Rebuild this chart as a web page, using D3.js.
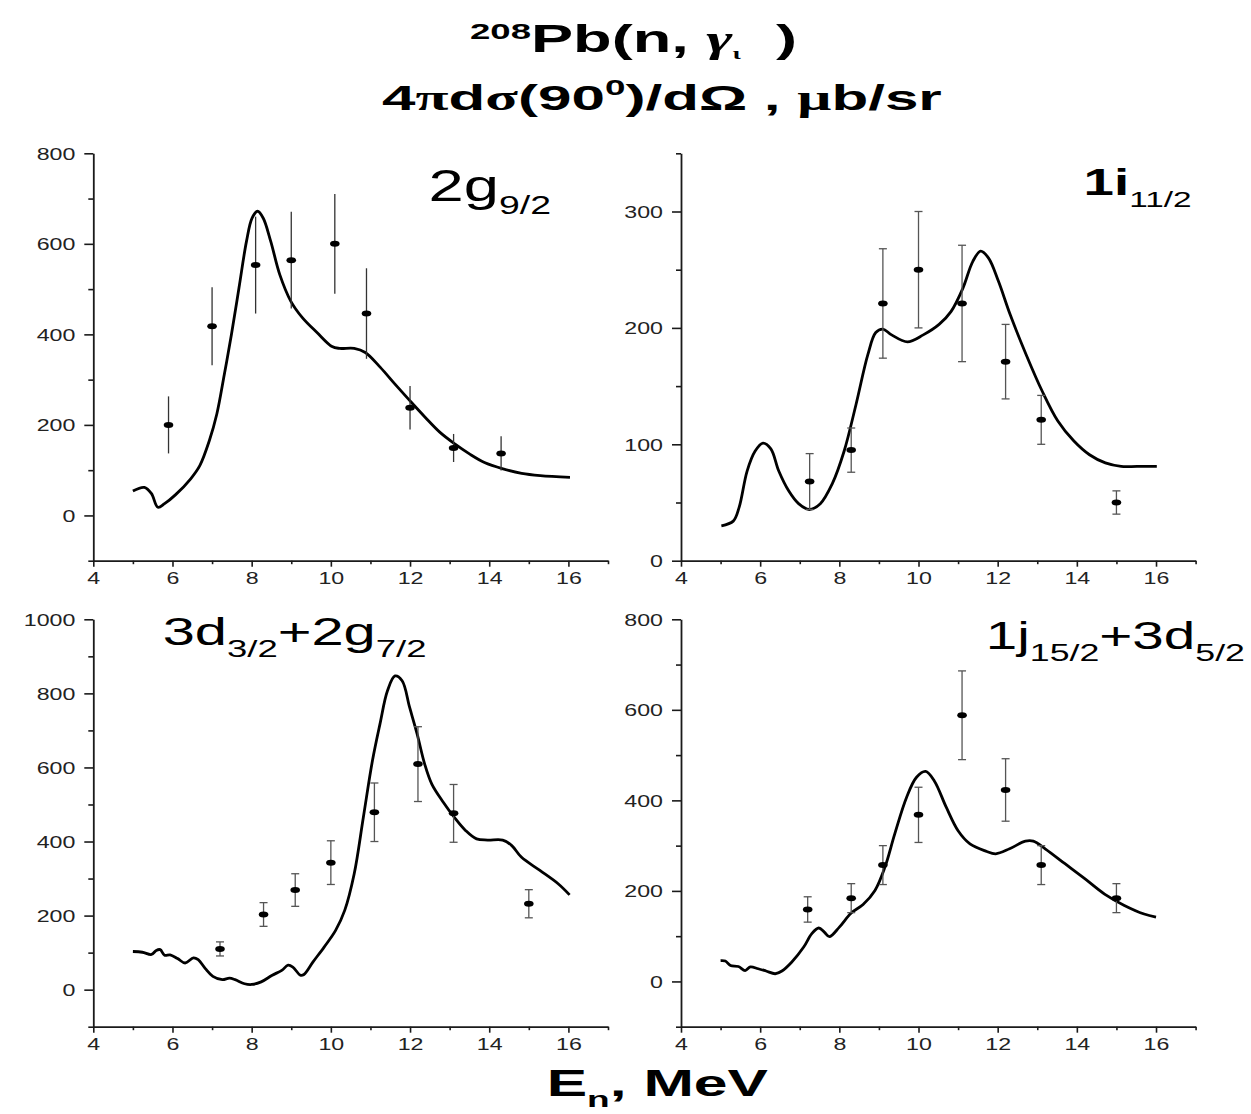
<!DOCTYPE html>
<html><head><meta charset="utf-8">
<script src="https://cdn.jsdelivr.net/npm/d3@7"></script>
<style>body{margin:0;background:#fff;} svg{display:block;} text{white-space:pre;}</style>
</head><body>
<svg id="c" width="1251" height="1114"></svg>
<script>
// ---------------- DATA ----------------
const xMajorTicks = [4, 6, 8, 10, 12, 14, 16];
const xMinorTicks = [5, 7, 9, 11, 13, 15, 17];

// Panel 1: 2g9/2
const p1CurveE = [5.0,5.29,5.47,5.63,5.8,6.08,6.46,6.69,6.93,7.12,7.31,7.49,7.68,7.87,8.01,8.15,8.29,8.48,8.71,8.99,9.28,9.65,10.03,10.22,10.59,10.87,11.25,11.62,12.0,12.38,12.75,13.13,13.5,13.88,14.35,14.82,15.29,16.04];
const p1CurveV = [54,62,48,18,26,46,81,110,165,224,312,400,503,606,657,672,657,606,532,473,437,404,373,369,369,360,327,290,253,217,184,158,136,117,103,93,88,84];
const p1PtE = [5.9,7.0,8.1,9.0,10.1,10.9,12.0,13.1,14.3];
const p1PtV = [200,418,553,564,600,446,238,149,137];
const p1Err = [63,86,107,107,110,100,48,31,38];
const p1YMajor = [0,200,400,600,800];
const p1YMinor = [-100,100,300,500,700];

// Panel 2: 1i11/2
const p2CurveE = [5.02,5.32,5.47,5.67,5.87,6.07,6.27,6.47,6.72,6.97,7.24,7.52,7.82,8.12,8.42,8.72,8.92,9.1,9.32,9.72,10.12,10.52,10.82,11.12,11.37,11.57,11.77,12.02,12.32,12.72,13.12,13.52,13.92,14.32,14.72,15.12,15.52,16.02];
const p2CurveV = [30,34,46,77,94,101,96,77,60,49,44,49,66,94,134,177,196,199,194,188,194,203,214,234,257,266,260,240,211,177,146,120,103,91,84,81,81,81];
const p2PtE = [7.25,8.3,9.1,10.0,11.1,12.2,13.1,15.0];
const p2PtV = [68,95,221,250,221,171,121,50];
const p2Err = [24,19,47,50,50,32,21,10];
const p2YMajor = [0,100,200,300];
const p2YMinor = [50,150,250,350];

// Panel 3: 3d3/2+2g7/2
const p3CurveE = [5.0,5.24,5.47,5.59,5.69,5.8,5.94,6.13,6.32,6.53,6.65,6.83,7.02,7.26,7.44,7.58,7.82,8.0,8.24,8.52,8.76,8.92,9.04,9.23,9.32,9.55,9.83,10.12,10.35,10.59,10.82,11.05,11.24,11.43,11.62,11.8,11.99,12.18,12.37,12.55,12.84,13.12,13.4,13.68,13.96,14.34,14.57,14.81,15.28,15.74,16.03];
const p3CurveV = [103,101,95,106,108,93,94,84,72,86,81,57,36,27,31,27,16,14,21,39,52,66,61,39,41,75,115,160,214,313,465,618,717,807,847,834,762,690,609,555,506,465,430,407,404,404,389,358,322,286,256];
const p3PtE = [7.2,8.3,9.1,10.0,11.1,12.2,13.1,15.0];
const p3PtV = [110,203,269,343,479,609,476,232];
const p3Err = [19,32,44,59,79,101,78,38];
const p3YMajor = [0,200,400,600,800,1000];
const p3YMinor = [-100,100,300,500,700,900];

// Panel 4: 1j15/2+3d5/2
const p4CurveE = [5.0,5.12,5.25,5.45,5.62,5.75,5.95,6.15,6.38,6.55,6.8,7.1,7.3,7.48,7.62,7.75,8.0,8.3,8.6,8.9,9.15,9.4,9.7,9.95,10.18,10.4,10.7,11.0,11.3,11.7,11.95,12.3,12.7,12.9,13.2,13.7,14.2,14.7,15.2,15.7,16.0];
const p4CurveV = [46,45,35,33,24,32,28,23,17,23,43,76,105,118,109,99,120,151,170,201,252,326,407,451,464,443,385,333,304,288,282,293,310,310,293,260,227,193,168,149,142];
const p4PtE = [7.2,8.3,9.1,10.0,11.1,12.2,13.1,15.0];
const p4PtV = [159,184,257,368,588,423,257,184];
const p4Err = [28,32,43,61,98,69,43,32];
const p4YMajor = [0,200,400,600,800];
const p4YMinor = [-100,100,300,500,700];

// ---------------- DRAW ----------------
const svg = d3.select("#c");
const FONT = "'Liberation Sans', Arial, sans-serif";
const SERIF = "'Liberation Serif', 'DejaVu Serif', serif";
const TICK_STRETCH = 1.45;

function fitText(t, x0, x1) {
  const bb = t.node().getBBox();
  const s = (x1 - x0) / bb.width;
  t.attr("transform", `translate(${x0},0) scale(${s},1) translate(${-bb.x},0)`);
}

const panels = [
  {E:p1CurveE, V:p1CurveV, pe:p1PtE, pv:p1PtV, err:p1Err, yd:[-100,800], yMaj:p1YMajor, yMin:p1YMinor,
   xr:[93.3,608], yr:[560.7,153.3], caps:false},
  {E:p2CurveE, V:p2CurveV, pe:p2PtE, pv:p2PtV, err:p2Err, yd:[0,350], yMaj:p2YMajor, yMin:p2YMinor,
   xr:[681,1195.6], yr:[560.7,153.3], caps:true},
  {E:p3CurveE, V:p3CurveV, pe:p3PtE, pv:p3PtV, err:p3Err, yd:[-100,1000], yMaj:p3YMajor, yMin:p3YMinor,
   xr:[93.3,608], yr:[1026.7,619.3], caps:true},
  {E:p4CurveE, V:p4CurveV, pe:p4PtE, pv:p4PtV, err:p4Err, yd:[-100,800], yMaj:p4YMajor, yMin:p4YMinor,
   xr:[681,1195.6], yr:[1026.7,619.3], caps:true}
];

function styleAxis(g) {
  g.selectAll(".domain").attr("stroke", "#1a1a1a").attr("stroke-width", 1.8);
  g.selectAll(".tick line").attr("stroke", "#1a1a1a").attr("stroke-width", 1.6);
  g.selectAll(".tick text").attr("fill", "#222").attr("font-family", FONT).attr("font-size", 16);
}

panels.forEach(p => {
  const x = d3.scaleLinear().domain([4, 17]).range(p.xr);
  const y = d3.scaleLinear().domain(p.yd).range(p.yr);
  const g = svg.append("g");

  // x axis
  const gxMin = g.append("g").attr("transform", `translate(0,${p.yr[0]})`)
    .call(d3.axisBottom(x).tickValues(xMinorTicks).tickSize(3.5).tickSizeOuter(0).tickFormat(""));
  gxMin.select(".domain").remove();
  const gxMaj = g.append("g").attr("transform", `translate(0,${p.yr[0]})`)
    .call(d3.axisBottom(x).tickValues(xMajorTicks).tickSize(6).tickSizeOuter(0).tickFormat(d3.format("d")));
  styleAxis(gxMin); styleAxis(gxMaj);
  gxMaj.selectAll(".tick text").attr("y", 23).attr("dy", 0)
    .attr("transform", `scale(${TICK_STRETCH},1)`);

  // y axis
  const gyMin = g.append("g").attr("transform", `translate(${p.xr[0]},0)`)
    .call(d3.axisLeft(y).tickValues(p.yMin).tickSize(5).tickSizeOuter(0).tickFormat(""));
  gyMin.select(".domain").remove();
  const gyMaj = g.append("g").attr("transform", `translate(${p.xr[0]},0)`)
    .call(d3.axisLeft(y).tickValues(p.yMaj).tickSize(9).tickSizeOuter(0).tickFormat(d3.format("d")));
  styleAxis(gyMin); styleAxis(gyMaj);
  gyMaj.selectAll(".tick text").attr("x", -18 / TICK_STRETCH).attr("dy", "0.36em")
    .attr("transform", `scale(${TICK_STRETCH},1)`);

  // theory curve
  const line = d3.line().x(d => x(d[0])).y(d => y(d[1])).curve(d3.curveCatmullRom.alpha(0.5));
  g.append("path").datum(p.E.map((e, i) => [e, p.V[i]]))
    .attr("d", line).attr("fill", "none").attr("stroke", "#000")
    .attr("stroke-width", 2.8).attr("stroke-linejoin", "round");

  // error bars
  const pts = p.pe.map((e, i) => ({e, v: p.pv[i], s: p.err[i]}));
  const eb = g.append("g").attr("stroke", p.caps ? "#555" : "#333").attr("stroke-width", 1.3);
  eb.selectAll("line.v").data(pts).join("line").attr("class", "v")
    .attr("x1", d => x(d.e)).attr("x2", d => x(d.e))
    .attr("y1", d => y(d.v - d.s)).attr("y2", d => y(d.v + d.s));
  if (p.caps) {
    ["lo", "hi"].forEach(k => {
      eb.selectAll("line." + k).data(pts).join("line").attr("class", k)
        .attr("x1", d => x(d.e) - 4).attr("x2", d => x(d.e) + 4)
        .attr("y1", d => y(k === "lo" ? d.v - d.s : d.v + d.s))
        .attr("y2", d => y(k === "lo" ? d.v - d.s : d.v + d.s));
    });
  }
  g.selectAll("ellipse.pt").data(pts).join("ellipse").attr("class", "pt")
    .attr("cx", d => x(d.e)).attr("cy", d => y(d.v)).attr("rx", 4.8).attr("ry", 3).attr("fill", "#000");
});

// ---------------- TEXT ----------------
function label(y, parts, x0, x1, weight) {
  const t = svg.append("text").attr("y", y).attr("font-family", FONT)
    .attr("font-weight", weight || "normal").attr("fill", "#000");
  parts.forEach(pt => {
    const s = t.append("tspan").attr("font-size", pt.size).text(pt.text);
    if (pt.dy) s.attr("dy", pt.dy);
    if (pt.weight) s.attr("font-weight", pt.weight);
    if (pt.serif) s.attr("font-family", SERIF);
    if (pt.italic) s.attr("font-style", "italic");
  });
  fitText(t, x0, x1);
  return t;
}

// Title lines
label(52, [
  {text: "208", size: 22, dy: -13},
  {text: "Pb(n, ", size: 38, dy: 13},
  {text: "γ", size: 38, serif: true, italic: true},
  {text: "ι", size: 16, serif: true, dy: 7},
  {text: "  )", size: 38, dy: -7}
], 470, 797, "bold");

label(110, [
  {text: "4", size: 36},
  {text: "π", size: 36, serif: true},
  {text: "d", size: 36},
  {text: "σ", size: 36, serif: true},
  {text: "(90", size: 36},
  {text: "0", size: 22, dy: -15},
  {text: ")/dΩ , ", size: 36, dy: 15},
  {text: "μ", size: 36, serif: true},
  {text: "b/sr", size: 36}
], 382, 942, "bold");

// Panel labels
label(201, [
  {text: "2g", size: 44},
  {text: "9/2", size: 26, dy: 13}
], 428.5, 551);

label(195, [
  {text: "1i", size: 36, weight: "bold"},
  {text: "11/2", size: 22, dy: 12}
], 1083.6, 1191.7);

label(645, [
  {text: "3d", size: 38},
  {text: "3/2", size: 24, dy: 12},
  {text: "+2g", size: 38, dy: -12},
  {text: "7/2", size: 24, dy: 12}
], 162.7, 426.6);

label(649, [
  {text: "1j", size: 38},
  {text: "15/2", size: 24, dy: 12},
  {text: "+3d", size: 38, dy: -12},
  {text: "5/2", size: 24, dy: 12}
], 985.8, 1245);

// X axis title
label(1096, [
  {text: "E", size: 36},
  {text: "n", size: 22, dy: 11},
  {text: ", MeV", size: 36, dy: -11}
], 546.7, 768, "bold");
</script>
</body></html>
